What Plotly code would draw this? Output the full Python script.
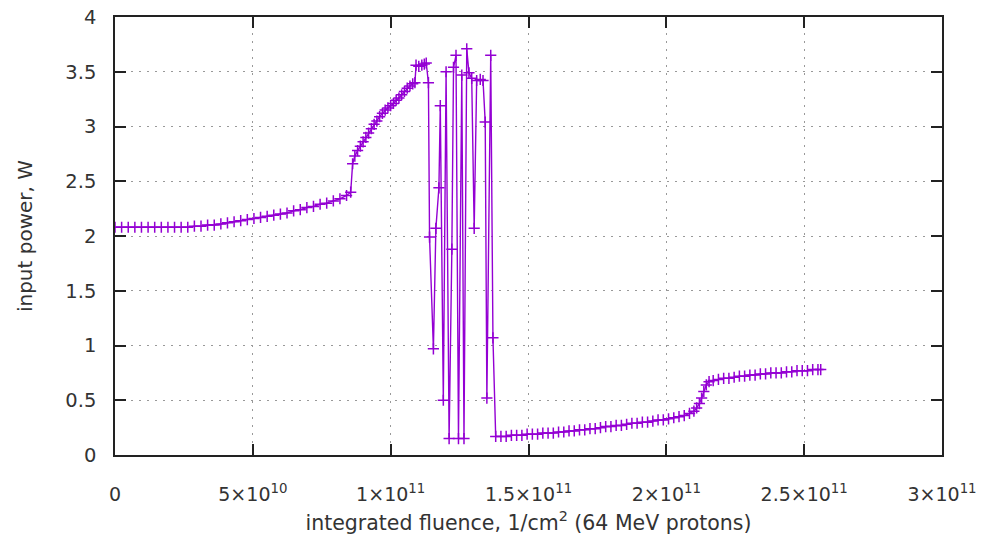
import plotly.graph_objects as go

# fluence in units of 1e10 1/cm^2, power in W
x_seg1 = [0.0, 0.24, 0.48, 0.72, 0.96, 1.2, 1.44, 1.68, 1.92, 2.16, 2.4, 2.64, 2.88, 3.12,
          3.36, 3.6, 3.84, 4.08, 4.32, 4.56, 4.8, 5.04, 5.28, 5.52, 5.76, 6.0, 6.24, 6.48,
          6.72, 6.96, 7.2, 7.44, 7.68, 7.92, 8.16, 8.4, 8.55]
y_seg1 = [2.08, 2.08, 2.08, 2.08, 2.08, 2.08, 2.08, 2.08, 2.08, 2.08, 2.08, 2.08, 2.09, 2.09,
          2.10, 2.10, 2.11, 2.12, 2.13, 2.14, 2.15, 2.16, 2.17, 2.18, 2.19, 2.20, 2.21, 2.23,
          2.24, 2.26, 2.27, 2.29, 2.30, 2.32, 2.34, 2.37, 2.40]

x_seg2 = [8.62, 8.70, 8.80, 8.90, 9.00, 9.10, 9.20, 9.30, 9.40, 9.50, 9.60, 9.70, 9.80, 9.90,
          10.00, 10.10, 10.20, 10.30, 10.40, 10.50, 10.60, 10.70, 10.80, 10.88, 10.92, 11.02,
          11.13, 11.22, 11.29, 11.37]
y_seg2 = [2.66, 2.73, 2.78, 2.82, 2.86, 2.90, 2.94, 2.98, 3.02, 3.05, 3.09, 3.12, 3.15, 3.17,
          3.19, 3.21, 3.24, 3.26, 3.29, 3.32, 3.35, 3.37, 3.39, 3.40, 3.56, 3.55,
          3.56, 3.57, 3.58, 3.40]

x_seg3 = [11.41, 11.55, 11.64, 11.75, 11.80, 11.91, 12.01, 12.12, 12.22, 12.28, 12.37, 12.46,
          12.58, 12.66, 12.76, 12.84, 12.94, 13.03, 13.12, 13.25, 13.35, 13.43, 13.49, 13.63,
          13.71]
y_seg3 = [1.99, 0.97, 2.07, 2.44, 3.19, 0.50, 3.50, 0.15, 1.88, 3.54, 3.65, 0.15,
          3.47, 0.15, 3.71, 3.49, 3.44, 2.07, 3.42, 3.43, 3.42, 3.04, 0.52, 3.65,
          1.07]

x_seg4 = [13.81, 14.00, 14.19, 14.38, 14.57, 14.76, 14.95, 15.14, 15.33, 15.52, 15.71, 15.90,
          16.09, 16.28, 16.47, 16.66, 16.85, 17.04, 17.23, 17.42, 17.61, 17.80, 17.99, 18.18,
          18.37, 18.56, 18.75, 18.94, 19.13, 19.32, 19.51, 19.70, 19.89, 20.08, 20.27, 20.46,
          20.65, 20.84, 21.00, 21.10, 21.20, 21.28, 21.36, 21.45, 21.55, 21.70, 21.89, 22.08,
          22.27, 22.46, 22.65, 22.84, 23.03, 23.22, 23.41, 23.60, 23.79, 23.98, 24.17, 24.36,
          24.55, 24.74, 24.93, 25.12, 25.31, 25.50, 25.60]
y_seg4 = [0.17, 0.17, 0.17, 0.18, 0.18, 0.18, 0.19, 0.19, 0.19, 0.20, 0.20, 0.20,
          0.21, 0.21, 0.22, 0.22, 0.23, 0.23, 0.24, 0.24, 0.25, 0.26, 0.26, 0.27,
          0.27, 0.28, 0.29, 0.29, 0.30, 0.30, 0.31, 0.32, 0.32, 0.33, 0.34, 0.35,
          0.36, 0.38, 0.40, 0.43, 0.47, 0.52, 0.58, 0.64, 0.67, 0.68, 0.69, 0.70,
          0.70, 0.71, 0.72, 0.72, 0.73, 0.73, 0.74, 0.74, 0.75, 0.75, 0.75, 0.76,
          0.76, 0.77, 0.77, 0.77, 0.78, 0.78, 0.78]

x_tick_vals = [0, 5e10, 1e11, 1.5e11, 2e11, 2.5e11, 3e11]
x_tick_text = ["0", "5×10<sup>10</sup>", "1×10<sup>11</sup>", "1.5×10<sup>11</sup>",
               "2×10<sup>11</sup>", "2.5×10<sup>11</sup>", "3×10<sup>11</sup>"]
y_tick_vals = [0, 0.5, 1, 1.5, 2, 2.5, 3, 3.5, 4]
y_tick_text = ["0", "0.5", "1", "1.5", "2", "2.5", "3", "3.5", "4"]

xs = [v * 1e10 for v in x_seg1 + x_seg2 + x_seg3 + x_seg4]
ys = y_seg1 + y_seg2 + y_seg3 + y_seg4

fig = go.Figure()
fig.add_trace(go.Scatter(
    x=xs, y=ys, mode="lines+markers",
    line=dict(color="#9400D3", width=1.4),
    marker=dict(symbol="cross-thin", size=8, line=dict(color="#9400D3", width=1.5)),
    showlegend=False,
))

txt = "#333333"
fig.update_layout(
    width=982, height=541,
    margin=dict(l=115, r=40, t=17, b=86),
    paper_bgcolor="white", plot_bgcolor="white",
    font=dict(family="DejaVu Sans", size=19, color=txt),
    xaxis=dict(
        range=[0, 3e11], tickvals=x_tick_vals, ticktext=x_tick_text,
        showline=True, linecolor="#222222", linewidth=1.5, mirror="ticks",
        ticks="inside", ticklen=11, tickcolor="#222222", tickwidth=1.5,
        showgrid=True, gridcolor="#999999", griddash="2px,6px", gridwidth=1,
        zeroline=False, ticklabelstandoff=21, automargin=False,
        ticklabeloverflow="allow",
        tickfont=dict(family="DejaVu Sans", size=19, color=txt),
        title=dict(text="integrated fluence, 1/cm<sup>2</sup> (64 MeV protons)",
                   font=dict(family="DejaVu Sans", size=20.5, color=txt), standoff=12),
    ),
    yaxis=dict(
        range=[0, 4], tickvals=y_tick_vals, ticktext=y_tick_text,
        showline=True, linecolor="#222222", linewidth=1.5, mirror="ticks",
        ticks="inside", ticklen=11, tickcolor="#222222", tickwidth=1.5,
        showgrid=True, gridcolor="#999999", griddash="2px,6px", gridwidth=1,
        zeroline=False, ticklabelstandoff=13, automargin=False,
        ticklabeloverflow="allow",
        tickfont=dict(family="DejaVu Sans", size=19.5, color=txt),
        title=dict(text="input power, W",
                   font=dict(family="DejaVu Sans", size=20, color=txt), standoff=27),
    ),
)
fig.write_html("out.html", config={"displayModeBar": False},
               post_script="document.body.style.margin='0';")
